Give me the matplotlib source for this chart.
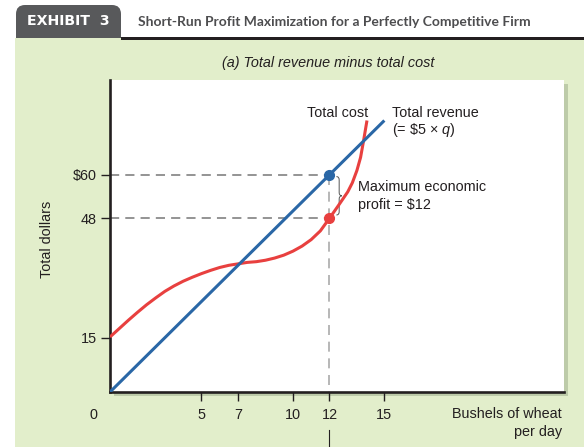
import matplotlib.pyplot as plt
import matplotlib.patheffects as pe
from matplotlib.patches import Rectangle, FancyBboxPatch, PathPatch
from matplotlib.path import Path
from matplotlib.transforms import IdentityTransform

plt.rcParams['font.family'] = ['Liberation Sans', 'DejaVu Sans']
plt.rcParams['mathtext.fontset'] = 'custom'
plt.rcParams['mathtext.rm'] = 'Liberation Sans'
plt.rcParams['mathtext.it'] = 'Liberation Sans:italic'

# total revenue = $5 x q
q_tr = [0, 15]
tr = [0, 75]

# total cost
q_tc = [0, 0.5, 1, 1.5, 2, 2.5, 3, 3.5, 4, 4.5, 5, 5.5, 6, 6.5, 7, 7.5, 8,
        8.5, 9, 9.5, 10, 10.5, 11, 11.5, 12, 12.5, 13, 13.25, 13.5, 13.7,
        13.85, 14.05]
tc = [15.2, 17.5, 19.8, 22.0, 24.1, 26.0, 27.8, 29.3, 30.6, 31.7, 32.7, 33.6,
      34.4, 35.0, 35.4, 35.8, 36.0, 36.4, 37.0, 37.8, 38.9, 40.3, 42.1, 44.5,
      48.0, 51.6, 55.3, 57.8, 61.2, 64.8, 69.0, 75.0]

q_best = 12
tr_best = 60
tc_best = 48

x_ticks = [5, 7, 10, 12, 15]
y_ticks = [15, 48, 60]
y_ticklabels = ['15', '48', '\\$60']

W, H = 584, 447
fig = plt.figure(figsize=(W / 100, H / 100), dpi=100)
fs = 10.4

# green panel + header tab (pixel coords)
fig.patches.append(FancyBboxPatch((16, 395), 105, 47,
                                  boxstyle='round,pad=0,rounding_size=9',
                                  transform=IdentityTransform(),
                                  facecolor='#58595b', edgecolor='none', zorder=-3))
fig.patches.append(Rectangle((15, 0), W - 15, 409, transform=IdentityTransform(),
                             facecolor='#e2eecb', edgecolor='none', zorder=-2))
fig.patches.append(Rectangle((121, 407.5), W - 121, 2.2, transform=IdentityTransform(),
                             facecolor='#231f20', edgecolor='none', zorder=-1))
fig.text(68 / W, 1 - 21 / H, 'EXHIBIT  3', color='white', fontsize=10.2,
         fontweight='bold', ha='center', va='center', family=['DejaVu Sans'])
fig.text(138 / W, 1 - 22 / H,
         'Short-Run Profit Maximization for a Perfectly Competitive Firm',
         color='#4d4d4f', fontsize=10, fontweight='bold', ha='left', va='center',
         family=['Lato', 'DejaVu Sans'])
fig.text(328 / W, 1 - 63 / H, '(a) Total revenue minus total cost',
         fontsize=fs, style='italic', ha='center', va='center', color='#231f20')

ax = fig.add_axes([110 / W, 1 - 392 / H, 454 / W, 312 / H])
ax.set_xlim(0, 454 / 18.29)
ax.set_ylim(0, 312 / 3.62)
ax.patch.set_path_effects([pe.withSimplePatchShadow(offset=(3, -3),
                                                    shadow_rgbFace='#7a8a6a',
                                                    alpha=0.35)])

for s in ['top', 'right']:
    ax.spines[s].set_visible(False)
for s in ['left', 'bottom']:
    ax.spines[s].set_linewidth(1.9)
    ax.spines[s].set_color('#231f20')

ax.set_xticks(x_ticks)
ax.set_yticks(y_ticks)
ax.set_yticklabels(y_ticklabels)
ax.tick_params(direction='out', length=6.5, width=1, labelsize=fs,
               colors='#231f20', pad=3)
ax.tick_params(axis='x', pad=5)

# guide lines
ax.plot([0, q_best], [tr_best, tr_best], color='#777777', lw=1.1,
        dashes=(6, 4), zorder=1)
ax.plot([0, q_best], [tc_best, tc_best], color='#777777', lw=1.1,
        dashes=(6, 4), zorder=1)
ax.plot([q_best, q_best], [tr_best, 0], color='#aaaaaa', lw=1.2,
        dashes=(6, 4), zorder=1)
ax.plot([q_best, q_best], [-10.5, -15], color='#231f20', lw=0.8, clip_on=False)

ax.plot(q_tc, tc, color='#e8403f', lw=2.2, solid_capstyle='butt', zorder=3)
ax.plot(q_tr, tr, color='#2a67a6', lw=2.2, solid_capstyle='butt', zorder=4)
ax.plot([q_best], [tr_best], 'o', color='#2a67a6', ms=7, zorder=5)
ax.plot([q_best], [tc_best], 'o', color='#e8403f', ms=7, zorder=5)

# brace between the two dots
xl, xr = q_best + 0.38, q_best + 0.68
xm = (xl + xr) / 2
top, bot = tr_best - 0.5, tc_best + 0.9
ym = (top + bot) / 2
d = 0.9
verts = [(xl, top), (xm, top), (xm, top - d), (xm, ym + d), (xm, ym), (xr, ym),
         (xm, ym), (xm, ym - d), (xm, bot + d), (xm, bot), (xl, bot)]
codes = [Path.MOVETO, Path.CURVE3, Path.CURVE3, Path.LINETO, Path.CURVE3,
         Path.CURVE3, Path.CURVE3, Path.CURVE3, Path.LINETO, Path.CURVE3,
         Path.CURVE3]
ax.add_patch(PathPatch(Path(verts, codes), facecolor='none',
                       edgecolor='#555555', lw=0.7))

txt = dict(fontsize=fs, color='#231f20')
ax.text(12.47, 77.1, 'Total cost', ha='center', va='center', **txt)
ax.text(15.42, 77.1, 'Total revenue', ha='left', va='center', **txt)
ax.text(15.42, 72.4, '(= \\$5 \u00d7 $q$)', ha='left', va='center', **txt)
ax.text(13.56, 56.6, 'Maximum economic', ha='left', va='center', **txt)
ax.text(13.56, 51.7, 'profit = \\$12', ha='left', va='center', **txt)

ax.text(-0.93, -6.35, '0', ha='center', va='center', clip_on=False, **txt)
fig.text(562 / W, 1 - 407 / H, 'Bushels of wheat\nper day', ha='right',
         va='top', multialignment='right', linespacing=1.4, **txt)
fig.text(47 / W, 1 - 239 / H, 'Total dollars', rotation=90, ha='center',
         va='center', **txt)

fig.savefig('out.png', dpi=100)
